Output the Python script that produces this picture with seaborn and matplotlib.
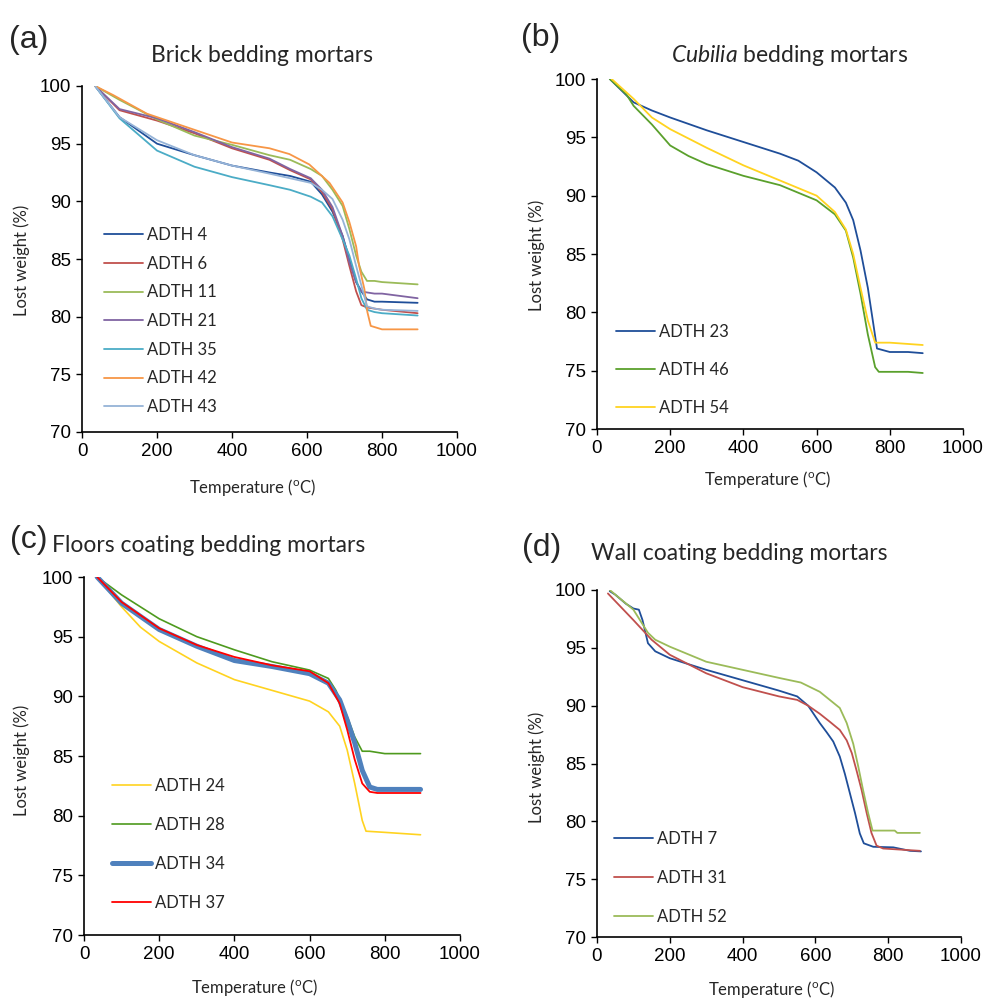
import matplotlib
matplotlib.use("Agg")
import matplotlib.pyplot as plt
import seaborn as sns
import pandas as pd

# ---------------- data ----------------
# (a) Brick bedding mortars
a_T = [35, 100, 200, 300, 400, 500, 555, 610, 640, 668, 695, 713, 731, 745, 760, 780, 800, 895]
a_4 = [100, 97.3, 95.0, 94.0, 93.1, 92.5, 92.2, 91.7, 90.6, 89.1, 87.0, 85.0, 83.0, 82.2, 81.5, 81.3, 81.3, 81.2]
a_6 = [100, 97.9, 97.0, 95.9, 94.6, 93.6, 92.7, 91.9, 90.8, 89.3, 86.7, 84.4, 82.2, 81.0, 80.8, 80.7, 80.6, 80.3]
a_11 = [100, 98.8, 97.1, 95.7, 94.9, 94.0, 93.6, 92.8, 92.2, 91.0, 89.6, 87.6, 85.3, 83.9, 83.1, 83.1, 83.0, 82.8]
a_21 = [100, 98.0, 97.2, 96.0, 94.7, 93.7, 92.8, 92.0, 91.0, 89.5, 87.0, 84.7, 83.0, 82.2, 82.1, 82.0, 82.0, 81.6]
a_35 = [100, 97.2, 94.4, 93.0, 92.1, 91.4, 91.0, 90.4, 89.9, 88.7, 86.7, 85.3, 83.3, 81.6, 80.6, 80.4, 80.3, 80.1]
a_43 = [100, 97.3, 95.3, 94.0, 93.1, 92.4, 92.0, 91.6, 91.0, 90.2, 88.4, 86.7, 84.4, 82.7, 80.9, 80.7, 80.6, 80.5]
a_42_T = [35, 84, 173, 300, 400, 500, 553, 606, 660, 695, 713, 731, 739, 753, 761, 770, 800, 895]
a_42 = [100, 99.2, 97.6, 96.2, 95.1, 94.6, 94.1, 93.2, 91.6, 89.9, 88.2, 86.1, 84.4, 82.4, 80.4, 79.2, 78.9, 78.9]

# (b) Cubilia bedding mortars
b_23_T = [35, 100, 150, 200, 300, 400, 500, 550, 600, 650, 680, 700, 720, 740, 755, 765, 800, 850, 890]
b_23 = [100, 98.0, 97.3, 96.7, 95.6, 94.6, 93.6, 93.0, 92.0, 90.7, 89.4, 87.9, 85.3, 82.1, 79.0, 76.9, 76.6, 76.6, 76.5]
b_46_T = [35, 80, 100, 150, 200, 250, 300, 400, 500, 600, 650, 680, 700, 720, 740, 760, 770, 850, 890]
b_46 = [100, 98.7, 97.7, 96.1, 94.3, 93.4, 92.7, 91.7, 90.9, 89.6, 88.4, 87.0, 84.7, 81.6, 78.1, 75.3, 74.9, 74.9, 74.8]
b_54_T = [40, 100, 150, 200, 300, 400, 500, 600, 650, 680, 700, 720, 740, 760, 800, 890]
b_54 = [100, 98.3, 96.7, 95.7, 94.1, 92.6, 91.3, 90.0, 88.6, 87.1, 85.0, 82.1, 79.3, 77.4, 77.4, 77.2]

# (c) Floors coating bedding mortars
c_24_T = [35, 100, 150, 200, 300, 400, 500, 600, 650, 680, 700, 720, 740, 750, 800, 895]
c_24 = [100, 97.5, 95.8, 94.6, 92.8, 91.4, 90.5, 89.6, 88.7, 87.5, 85.5, 82.7, 79.6, 78.7, 78.6, 78.4]
c_28_T = [35, 100, 200, 300, 400, 500, 600, 650, 670, 700, 720, 740, 760, 800, 895]
c_28 = [100, 98.5, 96.5, 95.0, 93.9, 92.9, 92.2, 91.5, 90.5, 88.3, 86.6, 85.4, 85.4, 85.2, 85.2]
c_T = [35, 100, 200, 300, 400, 500, 600, 650, 680, 700, 720, 740, 760, 780, 895]
c_34 = [100, 97.8, 95.6, 94.2, 93.0, 92.5, 91.9, 91.1, 89.7, 88.0, 86.1, 83.8, 82.4, 82.2, 82.2]
c_37 = [100, 97.9, 95.7, 94.3, 93.3, 92.6, 92.1, 91.1, 89.4, 87.2, 84.7, 82.7, 82.0, 81.9, 81.9]

# (d) Wall coating bedding mortars
d_7_T = [35, 50, 80, 100, 115, 125, 140, 160, 200, 300, 400, 500, 550, 580, 612, 631, 649,
         667, 681, 695, 709, 722, 733, 759, 814, 860, 890]
d_7 = [99.9, 99.6, 98.8, 98.4, 98.3, 97.4, 95.4, 94.7, 94.1, 93.1, 92.2, 91.3, 90.8, 90.0, 88.5,
       87.7, 86.9, 85.6, 84.1, 82.4, 80.7, 78.95, 78.1, 77.8, 77.75, 77.45, 77.4]
d_31_T = [30, 100, 150, 200, 300, 400, 500, 550, 580, 612, 640, 667, 686, 700, 713, 727, 741,
          754, 768, 786, 887]
d_31 = [99.7, 97.4, 95.7, 94.4, 92.8, 91.6, 90.8, 90.5, 90.0, 89.3, 88.6, 87.9, 87.0, 85.9, 84.4,
        82.7, 80.7, 79.0, 77.9, 77.65, 77.45]
d_52_T = [35, 100, 140, 160, 200, 300, 400, 500, 560, 612, 667, 686, 704, 718, 731, 745, 757,
          818, 825, 887]
d_52 = [100, 98.3, 96.3, 95.7, 95.1, 93.8, 93.1, 92.4, 92.0, 91.2, 89.8, 88.5, 86.7, 84.7, 82.7,
        80.7, 79.2, 79.2, 79.0, 79.0]

x_ticks = [0, 200, 400, 600, 800, 1000]
y_ticks = [70, 75, 80, 85, 90, 95, 100]

# ---------------- style ----------------
sns.set_theme(style="ticks")
plt.rcParams["font.family"] = ["Liberation Sans", "DejaVu Sans"]
plt.rcParams["mathtext.fontset"] = "custom"
plt.rcParams["mathtext.rm"] = "Lato"
plt.rcParams["mathtext.it"] = "Lato:italic"

W, H = 986, 1000
fig = plt.figure(figsize=(W / 100, H / 100), dpi=100)
fig.patch.set_facecolor("white")


def ax_at(x0, y0, x1, y1):
    return fig.add_axes([x0 / W, 1 - y1 / H, (x1 - x0) / W, (y1 - y0) / H])


def ftext(x, y, s, **kw):
    fig.text(x / W, 1 - y / H, s, **kw)


LBL = dict(family=["Lato", "DejaVu Sans"])

panels = [
    dict(box=(82, 86, 457, 432),
         series=[(a_T, a_4, "ADTH 4", "#1F4E99", 1.3),
                 (a_T, a_6, "ADTH 6", "#C0504D", 1.3),
                 (a_T, a_11, "ADTH 11", "#9BBB59", 1.3),
                 (a_T, a_21, "ADTH 21", "#8064A2", 1.3),
                 (a_T, a_35, "ADTH 35", "#4BACC6", 1.3),
                 (a_42_T, a_42, "ADTH 42", "#F79646", 1.3),
                 (a_T, a_43, "ADTH 43", "#95B3D7", 1.3)],
         leg=(104, 227, 0.76),
         title=("Brick bedding mortars", 262, 55), tag=("(a)", 29, 40),
         ylab=(22, 260), xlab=(253, 487)),
    dict(box=(597, 79, 963, 429),
         series=[(b_23_T, b_23, "ADTH 23", "#1F4E99", 1.3),
                 (b_46_T, b_46, "ADTH 46", "#5AA02C", 1.3),
                 (b_54_T, b_54, "ADTH 54", "#FFD320", 1.3)],
         leg=(616, 324, 1.32),
         title=("$\\it{Cubilia}$ bedding mortars", 790, 55), tag=("(b)", 541, 38),
         ylab=(537, 255), xlab=(768, 480)),
    dict(box=(84, 577, 460, 935),
         series=[(c_24_T, c_24, "ADTH 24", "#FFD320", 1.2),
                 (c_28_T, c_28, "ADTH 28", "#4E9A1E", 1.2),
                 (c_T, c_34, "ADTH 34", "#4F81BD", 3.6),
                 (c_T, c_37, "ADTH 37", "#FF0000", 1.3)],
         leg=(112, 778, 1.38),
         title=("Floors coating bedding mortars", 209, 545), tag=("(c)", 29, 540),
         ylab=(22, 760), xlab=(255, 988)),
    dict(box=(597, 590, 961, 937),
         series=[(d_7_T, d_7, "ADTH 7", "#1F4E99", 1.3),
                 (d_31_T, d_31, "ADTH 31", "#C0504D", 1.3),
                 (d_52_T, d_52, "ADTH 52", "#9BBB59", 1.3)],
         leg=(614, 831, 1.38),
         title=("Wall coating bedding mortars", 739, 553), tag=("(d)", 542, 548),
         ylab=(537, 767), xlab=(772, 990)),
]

for p in panels:
    ax = ax_at(*p["box"])
    for T, V, name, col, lw in p["series"]:
        df = pd.DataFrame({"T": T, "V": V})
        sns.lineplot(data=df, x="T", y="V", ax=ax, color=col, lw=lw,
                     label=name, estimator=None, sort=False)
    ax.set_xlim(0, 1000)
    ax.set_ylim(70, 100)
    ax.set_xticks(x_ticks)
    ax.set_yticks(y_ticks)
    ax.set_xlabel("")
    ax.set_ylabel("")
    ax.tick_params(axis="both", direction="out", length=4, width=1.0,
                   colors="black", labelsize=13.5, pad=4)
    for s in ["left", "bottom"]:
        ax.spines[s].set_color("black")
        ax.spines[s].set_linewidth(1.2)
    sns.despine(ax=ax)
    ax.set_facecolor("white")
    lx, ly, lsp = p["leg"]
    ax.legend(loc="upper left", bbox_to_anchor=(lx / W, 1 - ly / H),
              bbox_transform=fig.transFigure, frameon=False,
              borderaxespad=0, borderpad=0, handlelength=2.34,
              handletextpad=0.24, labelspacing=lsp,
              prop=dict(family=["Lato", "DejaVu Sans"], size=12))
    t, tx, ty = p["title"]
    ftext(tx, ty, t, ha="center", va="center", fontsize=16.5, **LBL)
    g, gx, gy = p["tag"]
    ftext(gx, gy, g, ha="center", va="center", fontsize=23,
          family=["Liberation Sans", "DejaVu Sans"])
    yx, yy = p["ylab"]
    ftext(yx, yy, "Lost weight (%)", ha="center", va="center", rotation=90,
          fontsize=12, **LBL)
    xx, xy = p["xlab"]
    ftext(xx, xy, "Temperature ($^{\\mathrm{o}}$C)", ha="center", va="center",
          fontsize=12, **LBL)

fig.savefig("out.png", dpi=100, facecolor="white")
